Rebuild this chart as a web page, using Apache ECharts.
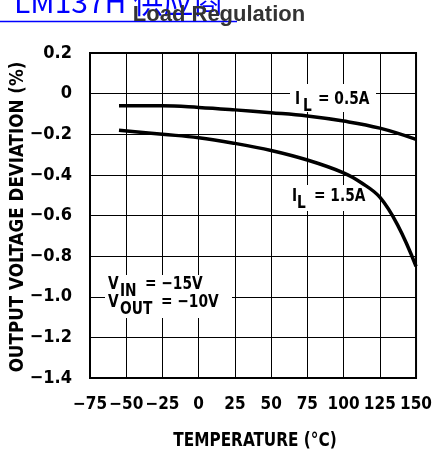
<!DOCTYPE html>
<html><head><meta charset="utf-8">
<script src="https://cdn.jsdelivr.net/npm/echarts@6/dist/echarts.min.js"></script>
<style>html,body{margin:0;padding:0;background:#fff}#c{width:435px;height:457px}</style>
</head><body><div id="c"></div>
<script>
var xTicks = [-75, -50, -25, 0, 25, 50, 75, 100, 125, 150];
var yTicks = [0.2, 0, -0.2, -0.4, -0.6, -0.8, -1.0, -1.2, -1.4];
var tempA = [-55, -25, 0, 25, 50, 75, 100, 125, 150];
var devA = [-0.06, -0.06, -0.068, -0.08, -0.094, -0.11, -0.135, -0.17, -0.225];
var tempB = [-55, -25, 0, 25, 50, 75, 100, 112.5, 125, 137.5, 150];
var devB = [-0.18, -0.2, -0.217, -0.245, -0.28, -0.327, -0.39, -0.44, -0.51, -0.65, -0.85];

var NF = "'DejaVu Sans Condensed','DejaVu Sans',sans-serif";
function pairs(xs, ys){ return xs.map(function(x,i){return [x, ys[i]];}); }
function minus(s){ return s.replace('-', '\u2212'); }

var chart = echarts.init(document.getElementById('c'), null, {renderer:'canvas'});
function txt(t, x, y, size, sx){
  return {type:'text', x:x, y:y, z:6, scaleX: sx || 0.85,
    style:{text:t, font:'bold '+size+'px '+NF, fill:'#000', textVerticalAlign:'middle'}};
}
function box(x, y, w, h){
  return {type:'rect', z:1, shape:{x:x, y:y, width:w, height:h}, style:{fill:'#fff'}};
}
var option = {
  animation:false,
  grid:{left:90, right:15, top:53, bottom:79, show:true, borderColor:'#000', borderWidth:2, backgroundColor:'transparent'},
  xAxis:{type:'value', min:-75, max:150, interval:25,
    axisLine:{show:false}, axisTick:{show:false},
    splitLine:{show:true, lineStyle:{color:'#000', width:1}},
    axisLabel:{margin:18, color:'#000', fontFamily:NF, fontWeight:'bold', fontSize:17,
      formatter:function(v){ return minus(String(v)); }}
  },
  yAxis:{type:'value', min:-1.4, max:0.2, interval:0.2,
    axisLine:{show:false}, axisTick:{show:false},
    splitLine:{show:true, lineStyle:{color:'#000', width:1}},
    axisLabel:{margin:18, color:'#000', fontFamily:NF, fontWeight:'bold', fontSize:18,
      formatter:function(v){ if (Math.abs(v)<1e-9) return '0'; return (v<0?'\u2212':'')+Math.abs(v).toFixed(1); }}
  },
  series:[
    {type:'line', data:pairs(tempA, devA), smooth:0.4, symbol:'none', lineStyle:{color:'#000', width:3.5}, z:3},
    {type:'line', data:pairs(tempB, devB), smooth:0.4, symbol:'none', lineStyle:{color:'#000', width:3.5}, z:3}
  ],
  graphic:[
    {type:'text', x:14, y:2, style:{text:'LM137H 供应商', font:'30px "Noto Sans CJK SC"', fill:'#0000ff', textVerticalAlign:'middle'}},
    {type:'line', shape:{x1:0, y1:21.5, x2:237, y2:21.5}, style:{stroke:'#0000ff', lineWidth:1.5}},
    {type:'text', x:219, y:15, style:{text:'Load Regulation', font:'bold 22px "Liberation Sans"', fill:'#333', textAlign:'center', textVerticalAlign:'middle'}},
    {type:'text', x:18, y:217, rotation:Math.PI/2, scaleX:0.98, style:{text:'OUTPUT VOLTAGE DEVIATION (%)', font:'bold 19px '+NF, fill:'#000', textAlign:'center', textVerticalAlign:'middle'}},
    {type:'text', x:255, y:441, scaleX:0.85, style:{text:'TEMPERATURE (\u00B0C)', font:'bold 20px '+NF, fill:'#000', textAlign:'center', textVerticalAlign:'middle'}},
    box(290, 84, 86, 28),
    box(288, 185, 82, 26),
    box(105, 275, 127, 43),
    txt('I', 295, 99, 18), txt('L', 303, 106, 18), txt('= 0.5A', 318, 99, 18),
    txt('I', 292, 196, 18), txt('L', 297, 203, 18), txt('= 1.5A', 314, 196, 18),
    txt('V', 108, 284, 18), txt('IN', 120, 291, 18), txt('= \u221215V', 145, 284, 18),
    txt('V', 108, 302, 18), txt('OUT', 120, 309, 18), txt('= \u221210V', 161, 302, 18)
  ]
};
chart.setOption(option);
</script></body></html>
